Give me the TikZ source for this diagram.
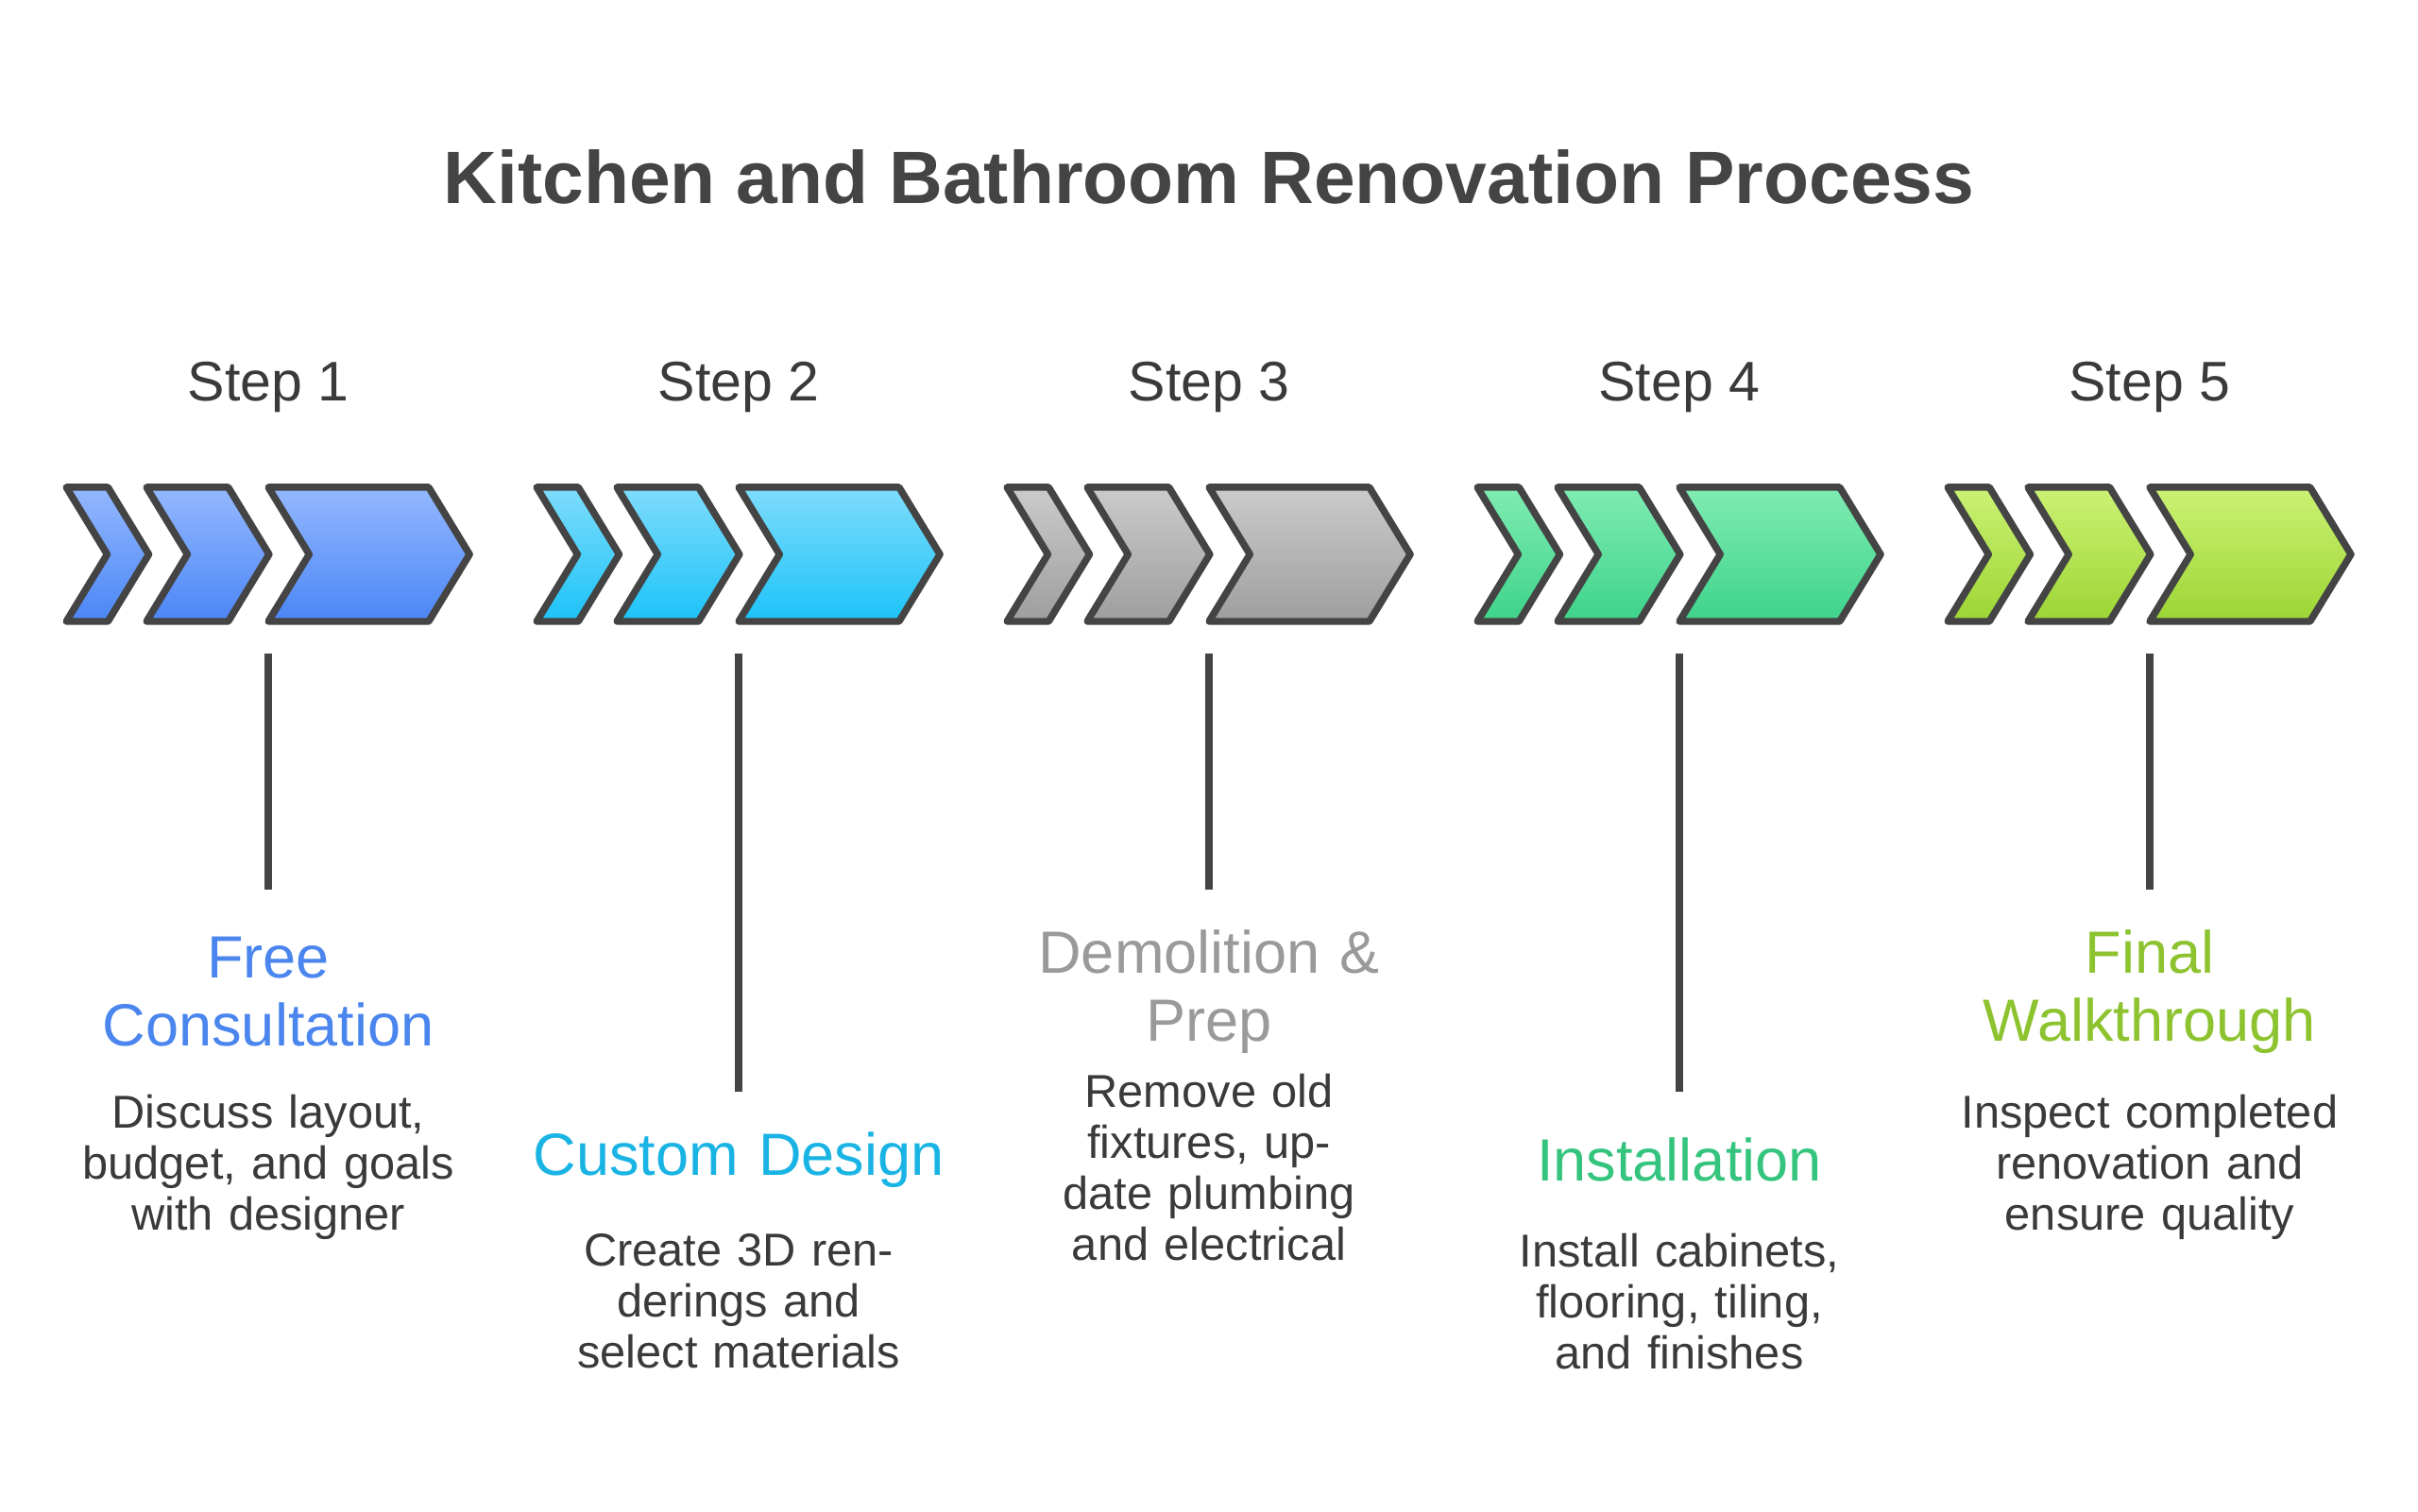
\documentclass[tikz,border=0pt]{standalone}
\usepackage{fontspec}
\setmainfont{Liberation Sans}
\usetikzlibrary{positioning}
\definecolor{ink}{HTML}{444444}
\definecolor{txt}{HTML}{3A3A3A}
\definecolor{topA}{HTML}{94B8FF}\definecolor{botA}{HTML}{4B86F6}\definecolor{ttlA}{HTML}{4A86EE}
\definecolor{topB}{HTML}{7EDCFC}\definecolor{botB}{HTML}{1CC3F8}\definecolor{ttlB}{HTML}{1AB4E4}
\definecolor{topC}{HTML}{CBCBCB}\definecolor{botC}{HTML}{9E9E9E}\definecolor{ttlC}{HTML}{9A9A9A}
\definecolor{topD}{HTML}{80ECB2}\definecolor{botD}{HTML}{3DD38A}\definecolor{ttlD}{HTML}{34C47E}
\definecolor{topE}{HTML}{CBF274}\definecolor{botE}{HTML}{9CD534}\definecolor{ttlE}{HTML}{8CC32E}
\tikzset{
  chevron/.style={draw=ink, line width=1.3pt, line join=round},
  steplabel/.style={text=txt, font=\fontsize{10.3}{12}\selectfont},
  phasetitle/.style={font=\fontsize{11}{12.6}\selectfont, align=center, text width=3cm},
  phasebody/.style={text=txt, font=\fontsize{8.5}{9.4}\selectfont, align=center, text width=2.6cm},
  stem/.style={draw=ink, line width=1.3pt}
}
% one arrow: x of left edge, width, colour pair
\newcommand\chev[4]{%
  \path[chevron, top color=#3, bottom color=#4]
    (#1,-3.16) -- ++(#2,0) -- ++(0.265,-0.435) -- ++(-0.265,-0.435)
    -- ++(-#2,0) -- ++(0.265,0.435) -- cycle;}
\begin{document}
\begin{tikzpicture}
\useasboundingbox (0,0) rectangle (15.68,-9.8);
\node[text=ink, font=\fontsize{13.7}{16}\selectfont\bfseries] (title) at (7.84,-1.15) {Kitchen and Bathroom Renovation Process};

\foreach \i/\ltr/\head/\body/\low in {
  1/A/{Free\\Consultation}/{Discuss layout, budget, and goals with designer}/0,
  2/B/{Custom Design}/{Create 3D renderings and select materials}/1,
  3/C/{Demolition \&\\Prep}/{Remove old fixtures, update plumbing and electrical}/0,
  4/D/{Installation}/{Install cabinets, flooring, tiling, and finishes}/1,
  5/E/{Final\\Walkthrough}/{Inspect completed renovation and ensure quality}/0}{
  \pgfmathsetmacro\ox{0.43+3.05*(\i-1)}
  \pgfmathsetmacro\cx{\ox+1.31}
  \chev{\ox}{0.27}{top\ltr}{bot\ltr}
  \chev{\ox+0.52}{0.53}{top\ltr}{bot\ltr}
  \chev{\ox+1.31}{1.04}{top\ltr}{bot\ltr}
  \node[steplabel] (step\i) at (\cx,-2.51) {Step \i};
  \coordinate (top\i) at (\cx,-4.24);
  \ifnum\low=1
    \coordinate (end\i) at (\cx,-7.08);
    \node[phasetitle, text=ttl\ltr] (head\i) at (\cx,-7.52) {\head};
    \node[phasebody] (body\i) at (\cx,-8.44) {\body};
  \else
    \coordinate (end\i) at (\cx,-5.77);
    \node[phasetitle, text=ttl\ltr] (head\i) at (\cx,-6.43) {\head};
    \node[phasebody] (body\i) at (\cx,-7.57) {\body};
  \fi
  \draw[stem] (top\i) -- (end\i);
}
\end{tikzpicture}
\end{document}
